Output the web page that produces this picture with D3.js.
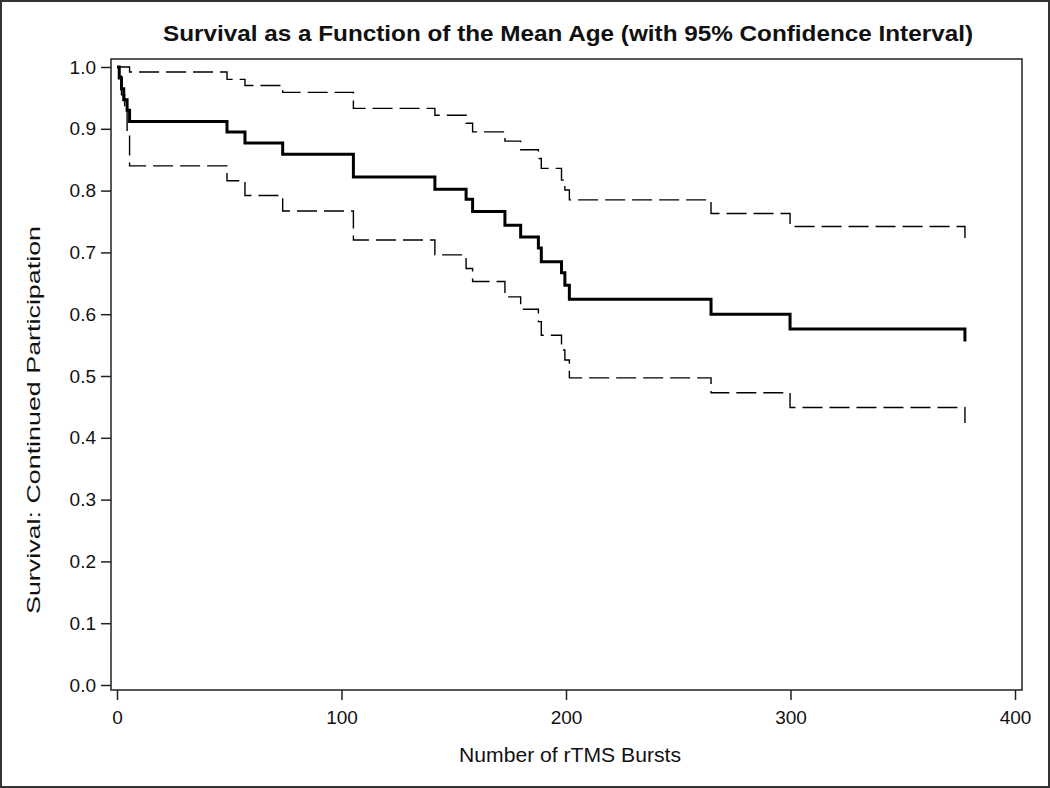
<!DOCTYPE html>
<html>
<head>
<meta charset="utf-8">
<script src="https://cdn.jsdelivr.net/npm/d3@7"></script>
<style>
  html, body { margin: 0; padding: 0; background: #fff; }
  svg { display: block; }
  text { font-family: "Liberation Sans", Arial, sans-serif; fill: #111; }
</style>
</head>
<body>
<svg id="chart" width="1050" height="788"></svg>
<script>
// ---- Data ----
const titleText = "Survival as a Function of the Mean Age (with 95% Confidence Interval)";
const xLabel = "Number of rTMS Bursts";
const yLabel = "Survival: Continued Participation";

const xTicks = [0, 100, 200, 300, 400];
const yTicks = [0.0, 0.1, 0.2, 0.3, 0.4, 0.5, 0.6, 0.7, 0.8, 0.9, 1.0];

// Survival estimate: event times and survival value after each step
const survTimes  = [0, 1, 2, 3, 4.5, 5.6, 49, 57, 73.8, 105.3, 141.6, 155.5, 158.4, 172.8, 179.8, 187.7, 189, 198, 199.5, 201.5, 264.6, 299.8, 377.7];
const survValues = [1.0, 0.982, 0.965, 0.947, 0.930, 0.912, 0.895, 0.877, 0.859, 0.822, 0.802, 0.786, 0.766, 0.744, 0.725, 0.707, 0.685, 0.667, 0.647, 0.624, 0.600, 0.576, 0.556];

// Upper 95% confidence limit
const upperTimes  = [0, 5.6, 49, 57, 73.8, 105.3, 141.6, 155.5, 158.4, 172.8, 179.8, 187.7, 189, 198, 199.5, 201.5, 264.6, 299.8, 377.7];
const upperValues = [1.0, 0.992, 0.980, 0.970, 0.959, 0.933, 0.922, 0.909, 0.895, 0.880, 0.866, 0.852, 0.836, 0.817, 0.801, 0.785, 0.763, 0.742, 0.722];

// Lower 95% confidence limit
const lowerTimes  = [0, 1, 2, 3.4, 4.5, 5.6, 49, 57, 73.8, 105.3, 141.6, 155.5, 158.4, 172.8, 179.8, 187.7, 189, 198, 199.5, 201.5, 264.6, 299.8, 377.7];
const lowerValues = [1.0, 0.985, 0.955, 0.930, 0.890, 0.840, 0.816, 0.792, 0.767, 0.720, 0.696, 0.674, 0.653, 0.628, 0.608, 0.588, 0.566, 0.542, 0.526, 0.497, 0.473, 0.449, 0.424];

// ---- Layout ----
const svg = d3.select("#chart");
const W = 1050, H = 788;
const frame = { left: 111, right: 1022, top: 59, bottom: 690 };

const x = d3.scaleLinear().domain([0, 400]).range([117, 1015]);
const y = d3.scaleLinear().domain([0, 1]).range([685, 67]);

// outer border
svg.append("rect")
  .attr("x", 1).attr("y", 1).attr("width", W - 2).attr("height", H - 2)
  .attr("fill", "#fff").attr("stroke", "#333").attr("stroke-width", 2);

// title
svg.append("text")
  .attr("x", 568).attr("y", 41)
  .attr("text-anchor", "middle")
  .attr("font-size", 22).attr("font-weight", "bold")
  .attr("textLength", 810).attr("lengthAdjust", "spacingAndGlyphs")
  .text(titleText);

// plot frame
svg.append("rect")
  .attr("x", frame.left).attr("y", frame.top)
  .attr("width", frame.right - frame.left).attr("height", frame.bottom - frame.top)
  .attr("fill", "none").attr("stroke", "#222").attr("stroke-width", 1.5);

// axes
const yAxis = d3.axisLeft(y).tickValues(yTicks).tickFormat(d3.format(".1f")).tickSize(10).tickPadding(5);
const gy = svg.append("g").attr("transform", `translate(${frame.left},0)`).call(yAxis);
gy.select(".domain").remove();
gy.selectAll(".tick line").attr("stroke", "#222").attr("stroke-width", 1.5);
gy.selectAll(".tick text").attr("font-size", 19).attr("fill", "#111")
  .style("font-family", '"Liberation Sans", Arial, sans-serif');

const xAxis = d3.axisBottom(x).tickValues(xTicks).tickFormat(d3.format("d")).tickSize(10).tickPadding(11);
const gx = svg.append("g").attr("transform", `translate(0,${frame.bottom})`).call(xAxis);
gx.select(".domain").remove();
gx.selectAll(".tick line").attr("stroke", "#222").attr("stroke-width", 1.5);
gx.selectAll(".tick text").attr("font-size", 19).attr("fill", "#111")
  .style("font-family", '"Liberation Sans", Arial, sans-serif');

// axis labels
svg.append("text")
  .attr("x", 570).attr("y", 762)
  .attr("text-anchor", "middle")
  .attr("font-size", 21)
  .attr("textLength", 222).attr("lengthAdjust", "spacingAndGlyphs")
  .text(xLabel);

svg.append("text")
  .attr("transform", "translate(40,420) rotate(-90)")
  .attr("text-anchor", "middle")
  .attr("font-size", 18)
  .attr("textLength", 388).attr("lengthAdjust", "spacingAndGlyphs")
  .text(yLabel);

// step lines
function stepData(times, values) {
  return times.map((t, i) => [t, values[i]]);
}
const line = d3.line()
  .x(d => x(d[0]))
  .y(d => y(d[1]))
  .curve(d3.curveStepAfter);

const plot = svg.append("g");

plot.append("path")
  .datum(stepData(upperTimes, upperValues))
  .attr("d", line)
  .attr("fill", "none").attr("stroke", "#000").attr("stroke-width", 1.4)
  .attr("stroke-dasharray", "20,7");

plot.append("path")
  .datum(stepData(lowerTimes, lowerValues))
  .attr("d", line)
  .attr("fill", "none").attr("stroke", "#000").attr("stroke-width", 1.4)
  .attr("stroke-dasharray", "20,7");

plot.append("path")
  .datum(stepData(survTimes, survValues))
  .attr("d", line)
  .attr("fill", "none").attr("stroke", "#000").attr("stroke-width", 3)
  .attr("stroke-linejoin", "miter");
</script>
</body>
</html>
